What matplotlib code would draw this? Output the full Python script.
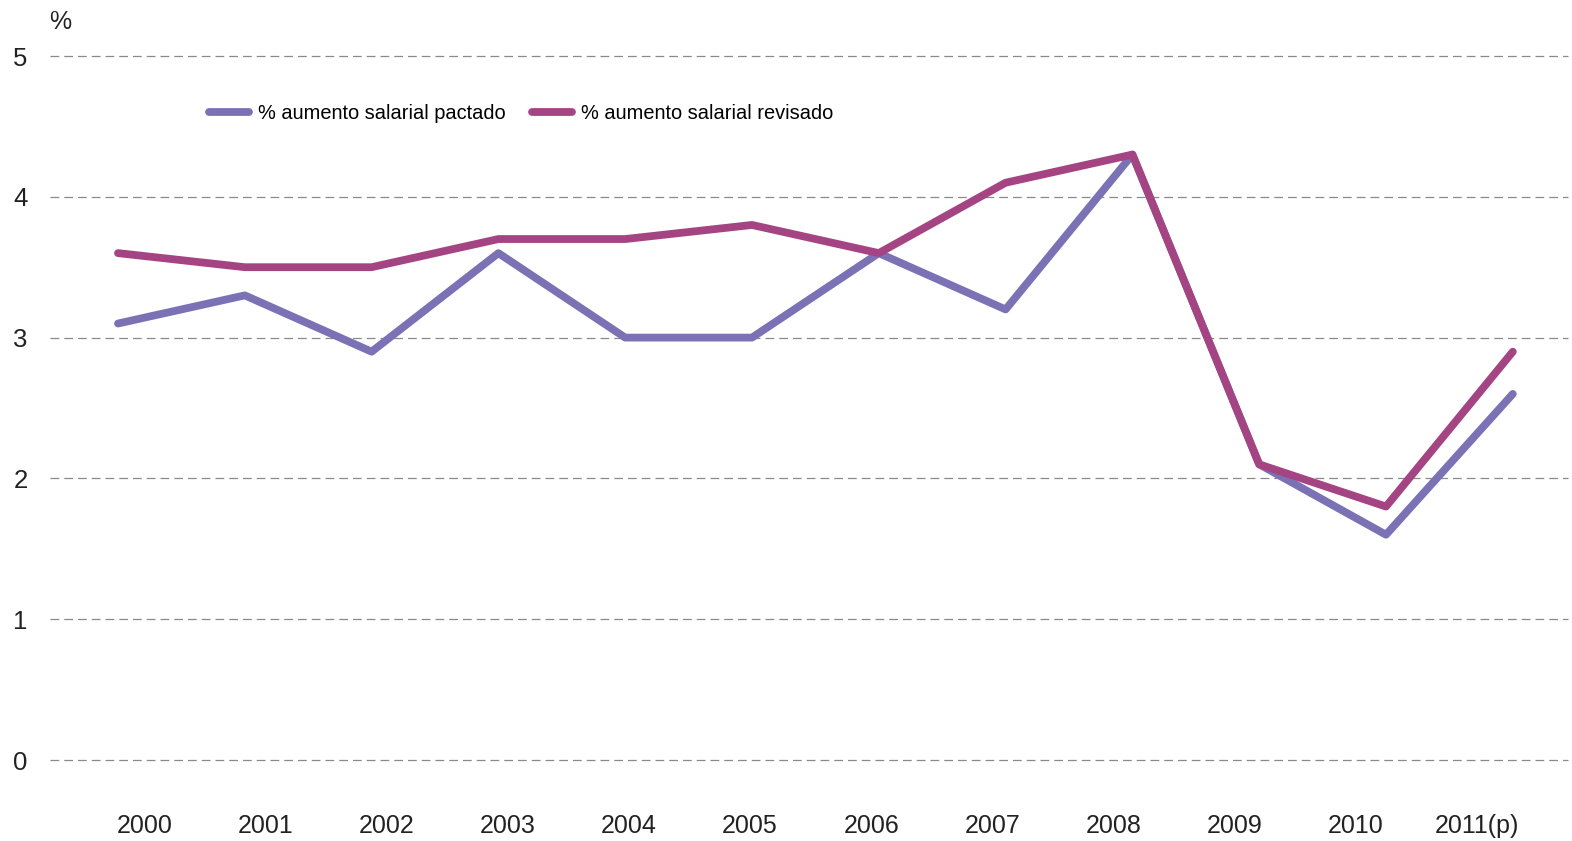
import numpy as np
import matplotlib.pyplot as plt

plt.rcParams['font.family'] = ['Liberation Sans', 'DejaVu Sans']

years = ['2000', '2001', '2002', '2003', '2004', '2005',
         '2006', '2007', '2008', '2009', '2010', '2011(p)']
pactado = [3.1, 3.3, 2.9, 3.6, 3.0, 3.0, 3.6, 3.2, 4.3, 2.1, 1.6, 2.6]
revisado = [3.6, 3.5, 3.5, 3.7, 3.7, 3.8, 3.6, 4.1, 4.3, 2.1, 1.8, 2.9]
yticks = [0, 1, 2, 3, 4, 5]

col_p = '#7a72b4'
col_r = '#a54482'

fig = plt.figure(figsize=(15.72, 8.41), dpi=100)
ax = fig.add_axes([50 / 1572, 1 - 760 / 841, 1518 / 1572, 704 / 841])

x = np.arange(len(years))
ax.plot(x, pactado, color=col_p, lw=5.6, solid_capstyle='round',
        solid_joinstyle='round', label='% aumento salarial pactado', zorder=3)
ax.plot(x, revisado, color=col_r, lw=5.6, solid_capstyle='round',
        solid_joinstyle='round', label='% aumento salarial revisado', zorder=4)

ax.set_xlim((50 - 118) / 126.8, (1568 - 118) / 126.8)
ax.set_ylim(0, 5)

for v in yticks:
    ax.axhline(v, color='#8a8a8a', lw=0.9, ls=(0, (7, 4)), zorder=1, clip_on=False)

ax.set_yticks(yticks)
ax.set_yticklabels([str(v) for v in yticks], fontsize=18.5, color='#222222')
ax.tick_params(axis='y', length=0, pad=16)

# category labels sit slightly offset from the data points
ax.set_xticks(0.21 + x * 0.955)
ax.set_xticklabels(years, fontsize=18, color='#222222')
ax.tick_params(axis='x', length=0, pad=39)

for s in ax.spines.values():
    s.set_visible(False)

ax.text(0.0066, 1.048, '%', transform=ax.transAxes, fontsize=18,
        color='#222222', ha='center', va='center')

ax.legend(loc='upper left', bbox_to_anchor=(0.093, 0.958), ncol=2, frameon=False,
          fontsize=14.4, handlelength=2.0, handletextpad=0.45, columnspacing=1.3)

fig.savefig('out.png', dpi=100)
